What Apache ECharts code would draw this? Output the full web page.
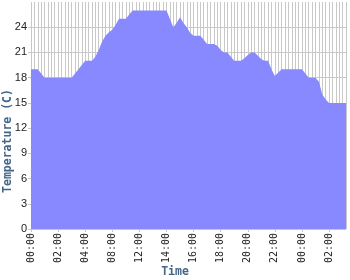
<!DOCTYPE html>
<html>
<head>
<meta charset="utf-8">
<script src="https://cdn.jsdelivr.net/npm/echarts@6/dist/echarts.min.js"></script>
<style>html,body{margin:0;padding:0;background:#fff}#c{width:350px;height:280px}</style>
</head>
<body>
<div id="c"></div>
<script>
// Temperature readings (one per category slot)
var temps = [
  19, 19, 19, 18.5, 18, 18, 18, 18, 18, 18, 18, 18, 18,
  18.5, 19, 19.5, 20, 20, 20, 20.5, 21.3, 22.3, 23, 23.4, 23.7, 24.3, 25, 25, 25, 25.5, 26,
  26, 26, 26, 26, 26, 26, 26, 26, 26, 26,
  25, 24, 24.5, 25.2, 24.5, 24, 23.3, 23, 23, 23, 22.5, 22, 22, 22, 21.8, 21.3, 21, 21, 20.5, 20,
  20, 20, 20.3, 20.7, 21, 21, 20.6, 20.2, 20, 20, 19, 18.2, 18.6, 19,
  19, 19, 19, 19, 19, 19,
  18.5, 18, 18, 18, 17.5, 16, 15.4, 15,
  15, 15, 15, 15, 15
];
// Tick labels shown every 8 slots
var tickLabels = ['00:00','02:00','04:00','08:00','12:00','14:00','16:00','18:00','20:00','22:00','00:00','02:00'];
var categories = temps.map(function (_, i) { return String(i); });

var chart = echarts.init(document.getElementById('c'), null, {renderer: 'canvas'});
chart.setOption({
  animation: false,
  backgroundColor: '#ffffff',
  grid: {left: 31, right: 4, top: 2, bottom: 51, containLabel: false},
  xAxis: {
    type: 'category',
    data: categories,
    boundaryGap: false,
    axisLine: {show: false},
    axisTick: {show: true, interval: 7, length: 3, lineStyle: {color: '#c8c8c8'}},
    axisLabel: {
      interval: 7, rotate: 90, margin: 4,
      fontFamily: 'DejaVu Sans Mono', fontSize: 10, color: '#222',
      formatter: function (v, idx) { return tickLabels[idx / 8] || ''; }
    },
    splitLine: {show: true, interval: 0, lineStyle: {color: '#c8c8c8', width: 1}}
  },
  yAxis: {
    type: 'value',
    min: 0, max: 27, interval: 3,
    axisLine: {show: false},
    axisTick: {show: true, length: 3, lineStyle: {color: '#c8c8c8'}},
    axisLabel: {showMaxLabel: false, margin: 4, fontFamily: 'Liberation Sans', fontSize: 11, color: '#222'},
    splitLine: {show: true, showMaxLine: false, lineStyle: {color: '#c8c8c8', width: 1}}
  },
  series: [{
    type: 'line',
    data: temps,
    symbol: 'none',
    smooth: false,
    lineStyle: {width: 0, color: '#8888ff'},
    itemStyle: {color: '#8888ff'},
    areaStyle: {color: '#8888ff', opacity: 1}
  }],
  graphic: [
    {type: 'text', x: 8, y: 141, rotation: Math.PI / 2,
     style: {text: 'Temperature (C)', fill: '#446688', font: 'bold 11.5px "DejaVu Sans Mono"', align: 'center', verticalAlign: 'middle'}},
    {type: 'text', x: 175, y: 272,
     style: {text: 'Time', fill: '#446688', font: 'bold 11.5px "DejaVu Sans Mono"', align: 'center', verticalAlign: 'middle'}}
  ]
});
</script>
</body>
</html>
